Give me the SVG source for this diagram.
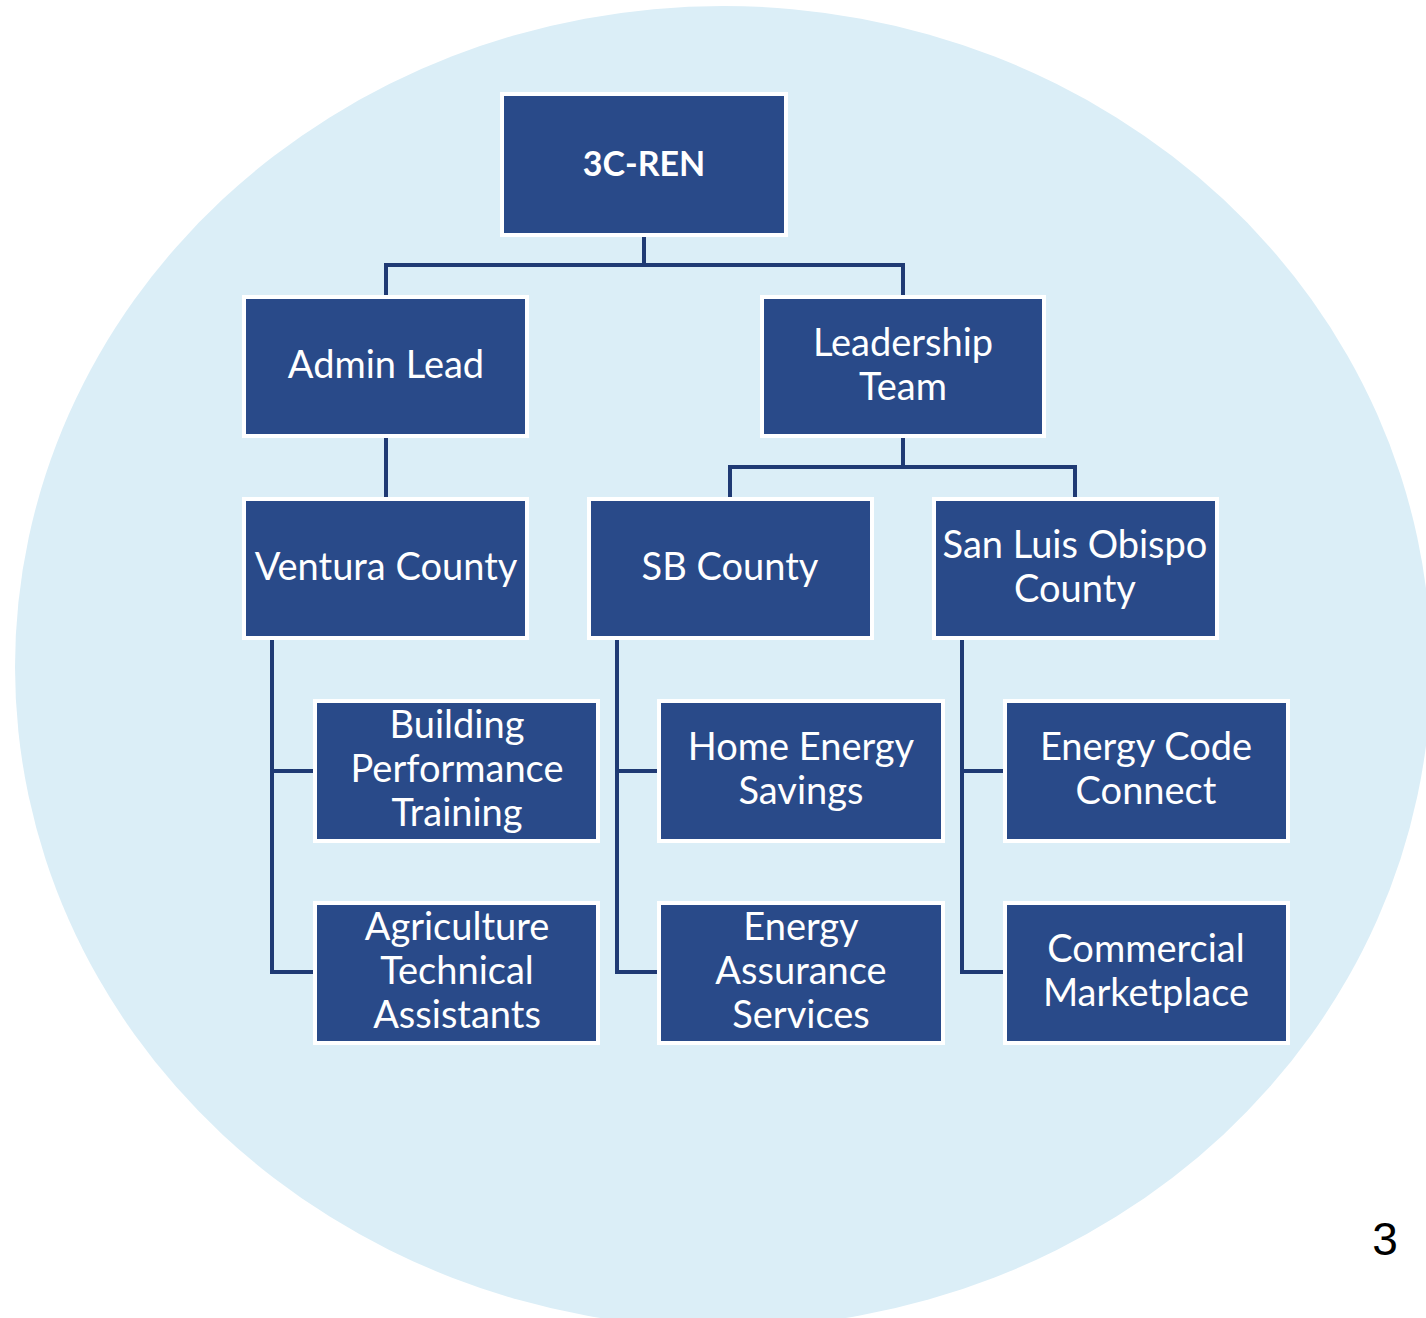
<svg xmlns="http://www.w3.org/2000/svg" width="1426" height="1318" viewBox="0 0 1426 1318">
<style>
.bg{fill:#DBEEF7}
.box{fill:#294A89;stroke:#FFFFFF;stroke-width:4}
.t{font-family:Lato,"Open Sans","Liberation Sans",sans-serif;font-size:38px;fill:#FFFFFF;text-anchor:middle}
.b{font-weight:bold;font-size:34px}
.c{fill:none;stroke:#1F3A74;stroke-width:4}
.pg{font-family:"Liberation Sans",Arial,sans-serif;font-size:46px;fill:#000000;text-anchor:middle}
</style>
<rect x="0" y="0" width="1426" height="1318" fill="#FFFFFF"/>
<ellipse class="bg" cx="723" cy="667" rx="708" ry="661"/>
<g id="connectors">
<path class="c" d="M644 237V265M386 265H903M386 263V297M903 263V297"/>
<path class="c" d="M386 438V499"/>
<path class="c" d="M903 438V467M730 467H1075M730 465V499M1075 465V499"/>
<path class="c" d="M272 640V972M270 771H315M270 972H315"/>
<path class="c" d="M617 640V972M615 771H659M615 972H659"/>
<path class="c" d="M962 640V972M960 771H1005M960 972H1005"/>
</g>
<g id="n-3cren"><rect class="box" x="502" y="94" width="284" height="141"/><text class="t b" x="644" y="176">3C-REN</text></g>
<g id="n-admin"><rect class="box" x="244" y="297" width="283" height="139"/><text class="t" x="386" y="378">Admin Lead</text></g>
<g id="n-leadership"><rect class="box" x="762" y="297" width="282" height="139"/><text class="t" x="903" y="356">Leadership</text><text class="t" x="903" y="400">Team</text></g>
<g id="n-ventura"><rect class="box" x="244" y="499" width="283" height="139"/><text class="t" x="386" y="580">Ventura County</text></g>
<g id="n-sb"><rect class="box" x="589" y="499" width="283" height="139"/><text class="t" x="730" y="580">SB County</text></g>
<g id="n-slo"><rect class="box" x="934" y="499" width="283" height="139"/><text class="t" x="1075" y="558">San Luis Obispo</text><text class="t" x="1075" y="602">County</text></g>
<g id="n-bpt"><rect class="box" x="315" y="701" width="283" height="140"/><text class="t" x="457" y="738">Building</text><text class="t" x="457" y="782">Performance</text><text class="t" x="457" y="826">Training</text></g>
<g id="n-ata"><rect class="box" x="315" y="903" width="283" height="140"/><text class="t" x="457" y="940">Agriculture</text><text class="t" x="457" y="984">Technical</text><text class="t" x="457" y="1028">Assistants</text></g>
<g id="n-hes"><rect class="box" x="659" y="701" width="284" height="140"/><text class="t" x="801" y="760">Home Energy</text><text class="t" x="801" y="804">Savings</text></g>
<g id="n-eas"><rect class="box" x="659" y="903" width="284" height="140"/><text class="t" x="801" y="940">Energy</text><text class="t" x="801" y="984">Assurance</text><text class="t" x="801" y="1028">Services</text></g>
<g id="n-ecc"><rect class="box" x="1005" y="701" width="283" height="140"/><text class="t" x="1146" y="760">Energy Code</text><text class="t" x="1146" y="804">Connect</text></g>
<g id="n-cm"><rect class="box" x="1005" y="903" width="283" height="140"/><text class="t" x="1146" y="962">Commercial</text><text class="t" x="1146" y="1006">Marketplace</text></g>
<text class="pg" x="1385" y="1255">3</text>
</svg>
